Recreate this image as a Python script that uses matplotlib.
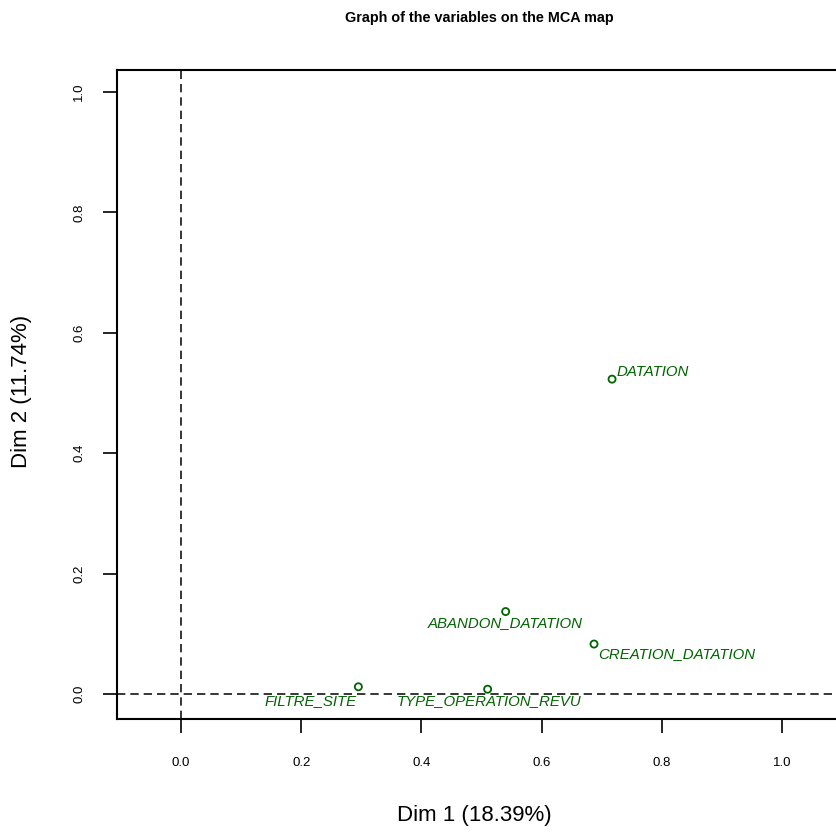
import matplotlib
matplotlib.use("Agg")
import matplotlib.pyplot as plt

plt.rcParams['font.family'] = ['Liberation Sans', 'DejaVu Sans']
plt.rcParams['lines.scale_dashes'] = False

# Data
variables = ["DATATION", "ABANDON_DATATION", "CREATION_DATATION",
             "TYPE_OPERATION_REVU", "FILTRE_SITE"]
dim1 = [0.717, 0.540, 0.687, 0.510, 0.295]
dim2 = [0.523, 0.137, 0.083, 0.008, 0.012]
xticks = [0.0, 0.2, 0.4, 0.6, 0.8, 1.0]
yticks = [0.0, 0.2, 0.4, 0.6, 0.8, 1.0]

# label placement (pixel offsets, alignment)
label_style = {
    "DATATION": ((4, 0), "left", "bottom"),
    "ABANDON_DATATION": ((0, -4), "center", "top"),
    "CREATION_DATATION": ((4, -3), "left", "top"),
    "TYPE_OPERATION_REVU": ((1, -5), "center", "top"),
    "FILTRE_SITE": ((-2, -7), "right", "top"),
}

W, H = 837, 832
fig = plt.figure(figsize=(W / 100, H / 100), dpi=100)
left_px, right_px, top_px, bot_px = 117, 900, 70, 719
ax = fig.add_axes([left_px / W, 1 - bot_px / H, (right_px - left_px) / W, (bot_px - top_px) / H])

ax.set_xlim(-0.1065, 1.196)
ax.set_ylim(-0.0415, 1.0365)

green = "#006400"
ax.scatter(dim1, dim2, s=26, facecolors="none", edgecolors=green, linewidths=1.3, zorder=3)
for name, x, y in zip(variables, dim1, dim2):
    (dx, dy), ha, va = label_style[name]
    ax.annotate(name, (x, y), xytext=(dx * 0.72, dy * 0.72), textcoords="offset points",
                ha=ha, va=va, color=green, fontstyle="italic", fontsize=10.8)

ax.axvline(0, color="black", lw=1.1, ls=(0, (6, 3.6)), zorder=1)
ax.axhline(0, color="black", lw=1.1, ls=(0, (6, 3.6)), zorder=1)

ax.set_xticks(xticks)
ax.set_xticklabels([f"{v:.1f}" for v in xticks])
ax.set_yticks(yticks)
ax.set_yticklabels([f"{v:.1f}" for v in yticks], rotation=90, va="center")
ax.tick_params(axis="x", direction="out", length=10, width=1.2, pad=17, labelsize=9.5)
ax.tick_params(axis="y", direction="out", length=10, width=1.2, pad=13, labelsize=9.5)
for s in ax.spines.values():
    s.set_linewidth(1.5)

fig.text(479 / W, 1 - 18 / H, "Graph of the variables on the MCA map", ha="center", va="center",
         fontsize=10.4, fontweight="bold")
fig.text(474 / W, 1 - 816 / H, "Dim 1 (18.39%)", ha="center", va="center", fontsize=16)
fig.text(22 / W, 1 - 391 / H, "Dim 2 (11.74%)", ha="center", va="center", fontsize=16, rotation=90)

fig.savefig("out.png", dpi=100)
